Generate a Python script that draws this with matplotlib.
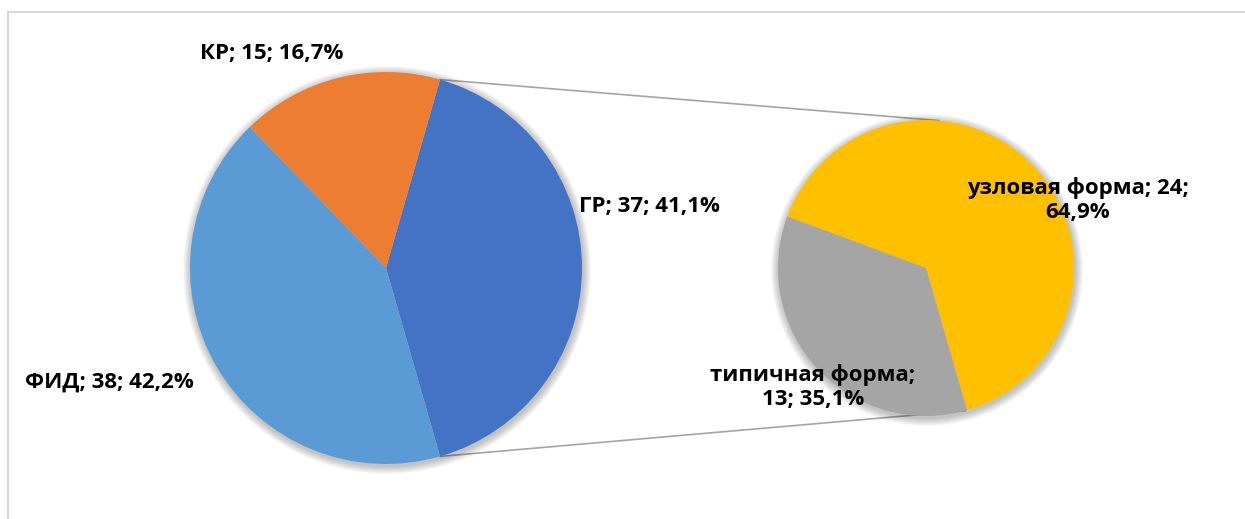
import numpy as np
import matplotlib
matplotlib.use("Agg")
import matplotlib.pyplot as plt
from matplotlib.patches import Rectangle, Circle

# Data
main_labels = ["ГР", "ФИД", "КР"]
main_values = [37, 38, 15]
main_pct = ["41,1%", "42,2%", "16,7%"]
main_colors = ["#4472C4", "#5B9BD5", "#ED7D31"]

sub_labels = ["узловая форма", "типичная форма"]
sub_values = [24, 13]
sub_pct = ["64,9%", "35,1%"]
sub_colors = ["#FFC000", "#A5A5A5"]

W, H = 1245, 519
fig = plt.figure(figsize=(W / 100, H / 100), dpi=100)
ax = fig.add_axes([0, 0, 1, 1])

# chart-area border
ax.add_patch(Rectangle((7.5, -5), W, H - 11.5 + 5, fill=False, edgecolor="#D9D9D9", lw=1.5))

c1 = (386, H - 268)
r1 = 196
c2 = (926, H - 268)
r2 = 148

# soft shadows
for c, r in [(c1, r1), (c2, r2)]:
    for k in range(1, 9):
        ax.add_patch(Circle((c[0] + 1, c[1] - 2), r + k, facecolor="black",
                            edgecolor="none", alpha=0.03, zorder=0.5))

start1 = 74
wedges1, _ = ax.pie(main_values, colors=main_colors, startangle=start1, counterclock=False,
                    center=c1, radius=r1, wedgeprops=dict(linewidth=0, zorder=2), frame=True)
start2 = 159.6
wedges2, _ = ax.pie(sub_values, colors=sub_colors, startangle=start2, counterclock=False,
                    center=c2, radius=r2, wedgeprops=dict(linewidth=0, zorder=2), frame=True)
ax.set_xlim(0, W)
ax.set_ylim(0, H)
ax.set_aspect("equal")
ax.axis("off")

# connector lines
frac = main_values[0] / sum(main_values)
a_top = np.deg2rad(start1)
a_bot = np.deg2rad(start1 - 360 * frac)
p1 = (c1[0] + r1 * np.cos(a_top), c1[1] + r1 * np.sin(a_top))
p2 = (c1[0] + r1 * np.cos(a_bot), c1[1] + r1 * np.sin(a_bot))
q1 = (c2[0] + r2 * np.cos(np.deg2rad(85)), c2[1] + r2 * np.sin(np.deg2rad(85)))
q2 = (c2[0] + r2 * np.cos(np.deg2rad(-74.6)), c2[1] + r2 * np.sin(np.deg2rad(-74.6)))
ax.plot([p1[0], q1[0]], [p1[1], q1[1]], color="#A5A5A5", lw=1.2, zorder=0.2)
ax.plot([p2[0], q2[0]], [p2[1], q2[1]], color="#A5A5A5", lw=1.2, zorder=0.2)

fp = dict(fontsize=16, fontweight="bold", family="Open Sans", color="#000000",
          ha="center", zorder=5)
ax.text(272, H - 59, f"{main_labels[2]}; {main_values[2]}; {main_pct[2]}", va="baseline", **fp)
ax.text(649, H - 212, f"{main_labels[0]}; {main_values[0]}; {main_pct[0]}", va="baseline", **fp)
ax.text(109, H - 388, f"{main_labels[1]}; {main_values[1]}; {main_pct[1]}", va="baseline", **fp)
ax.text(1078, H - 200, f"{sub_labels[0]}; {sub_values[0]};\n{sub_pct[0]}", va="center",
        linespacing=1.2, **fp)
ax.text(813, H - 387, f"{sub_labels[1]};\n{sub_values[1]}; {sub_pct[1]}", va="center",
        linespacing=1.2, **fp)

fig.savefig("out.png", dpi=100)
